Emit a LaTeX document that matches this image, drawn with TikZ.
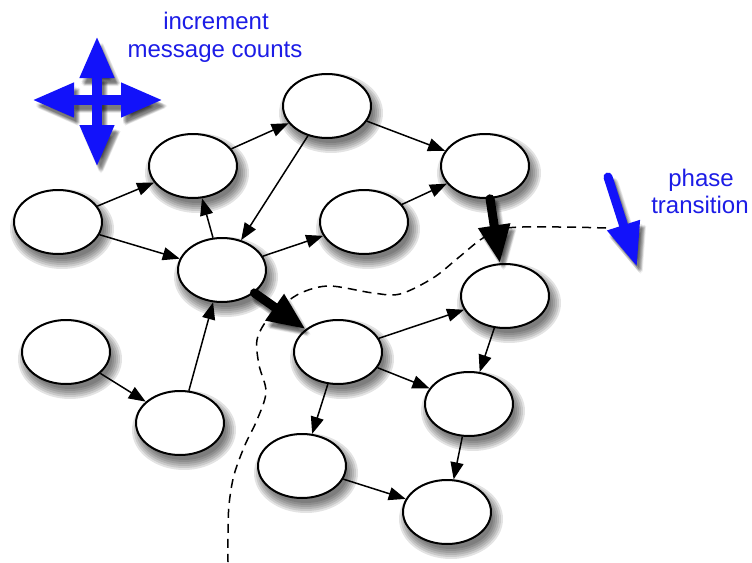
\documentclass[tikz,border=0pt]{standalone}
\usepackage{fontspec}
\setmainfont{Liberation Sans}
\usetikzlibrary{arrows.meta,shapes.geometric,backgrounds}
\definecolor{vivid}{RGB}{18,18,250}
\definecolor{labelblue}{RGB}{28,28,230}
\begin{document}
\begin{tikzpicture}[x=1pt,y=-1pt,
  state/.style={ellipse, draw, line width=2pt, fill=white,
    minimum width=88pt, minimum height=64pt, inner sep=0pt},
  shade layer/.style={fill=black, opacity=0.11},
  link/.style={line width=1.5pt, -{Triangle[length=17pt,width=13pt]}},
  push/.style={line width=9pt, line cap=round, -{Triangle[length=38pt,width=30pt]}},
  bluearrow/.style={draw=vivid, line width=10pt, -{Triangle[length=42pt,width=32pt]}},
  pointer/.style={draw=vivid, line width=9pt, line cap=round, -{Triangle[length=44pt,width=32pt]}},
  ghost/.style={draw=black, opacity=0.08},
  lbl/.style={text=labelblue, font=\fontsize{24pt}{29pt}\selectfont, inner sep=0pt},
  boundary/.style={line width=1.5pt, dash pattern=on 9pt off 6pt}
]
\useasboundingbox (0,0) rectangle (752,562);

% phase boundary
\draw[boundary] plot[smooth, tension=0.55] coordinates {
  (606,228) (560,227) (507,228) (483,238) (458,258) (433,278) (400,294)
  (373,293) (330,286) (303,292) (284,304) (267,320) (257,340) (259,365)
  (266,392) (257,420) (245,445) (234,475) (229,505) (228,535) (228,562)};

% states
\node[state] (A) at (58,222) {};
\node[state] (B) at (193,166) {};
\node[state] (C) at (327,106) {};
\node[state] (D) at (485,166) {};
\node[state] (E) at (222,270) {};
\node[state] (F) at (364,222) {};
\node[state] (G) at (66,352) {};
\node[state] (H) at (180,423) {};
\node[state] (I) at (505,296) {};
\node[state] (J) at (338,352) {};
\node[state] (K) at (469,404) {};
\node[state] (L) at (302,466) {};
\node[state] (M) at (447,512) {};

% soft drop shadows behind the states
\begin{pgfonlayer}{background}
  \foreach \n in {A,B,C,D,E,F,G,H,I,J,K,L,M} {
    \foreach \k in {-3,-1,1,3,5,7} {
      \fill[shade layer] ([shift={(4,7)}]\n.center) ellipse ({45+\k} and {33+\k});
    }
  }
\end{pgfonlayer}

% ordinary messages
\draw[link] (A.22) -- (B.203);
\draw[link] (A.-17) -- (E.165);
\draw[link] (B) -- (C);
\draw[link] (C) -- (D);
\draw[link] (C) -- (E);
\draw[link] (E) -- (B);
\draw[link] (E) -- (F);
\draw[link] (F) -- (D);
\draw[link] (G) -- (H);
\draw[link] (H) -- (E);
\draw[link] (J) -- (I);
\draw[link] (J) -- (K);
\draw[link] (J) -- (L);
\draw[link] (I) -- (K);
\draw[link] (K) -- (M);
\draw[link] (L) -- (M);

% messages crossing the boundary, with soft shadows
\foreach \dx/\dy in {2/4,3/5,4/6,5/7,3/7,5/5,4/8,6/6,2/6} {
  \draw[push, ghost, transform canvas={shift={(\dx,\dy)}}] (D) -- (I);
  \draw[push, ghost, transform canvas={shift={(\dx,\dy)}}] (E) -- (J);
}
\draw[push] (D) -- (I);
\draw[push] (E) -- (J);

% increment marker
\coordinate (hub) at (97,100);
\coordinate (tipN) at (97,36);
\coordinate (tipS) at (97,167);
\coordinate (tipW) at (32,100);
\coordinate (tipE) at (163,100);
% phase transition marker
\coordinate (ps) at (608,177);
\coordinate (pe) at (637,267);

\foreach \dx/\dy in {2/4,3/5,4/6,5/7,3/7,5/5,4/8,6/6,2/6} {
  \draw[bluearrow, ghost, transform canvas={shift={(\dx,\dy)}}] (hub) -- (tipN);
  \draw[bluearrow, ghost, transform canvas={shift={(\dx,\dy)}}] (hub) -- (tipS);
  \draw[bluearrow, ghost, transform canvas={shift={(\dx,\dy)}}] (hub) -- (tipW);
  \draw[bluearrow, ghost, transform canvas={shift={(\dx,\dy)}}] (hub) -- (tipE);
  \draw[pointer, ghost, transform canvas={shift={(\dx,\dy)}}] (ps) -- (pe);
}
\draw[bluearrow] (hub) -- (tipN);
\draw[bluearrow] (hub) -- (tipS);
\draw[bluearrow] (hub) -- (tipW);
\draw[bluearrow] (hub) -- (tipE);
\draw[pointer] (ps) -- (pe);

% labels
\node[lbl, anchor=base] (inc1) at (216,29) {increment};
\node[lbl, anchor=base] (inc2) at (215,57) {message counts};
\node[lbl, anchor=base] (ph1) at (701,186) {phase};
\node[lbl, anchor=base] (ph2) at (700,213) {transition};
\end{tikzpicture}
\end{document}
